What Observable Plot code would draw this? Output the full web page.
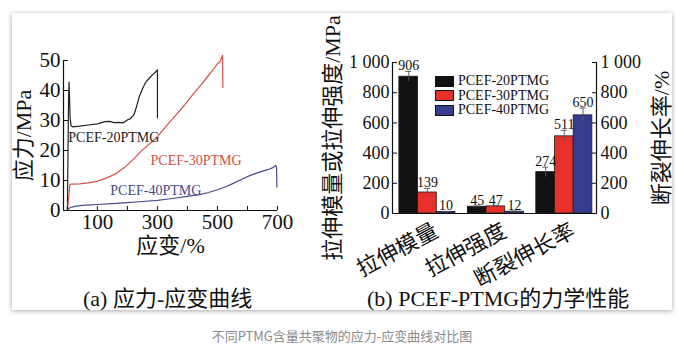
<!DOCTYPE html>
<html><head><meta charset="utf-8">
<script src="https://cdn.jsdelivr.net/npm/d3@7"></script>
<script src="https://cdn.jsdelivr.net/npm/@observablehq/plot@0.6"></script>
<style>
body{margin:0;background:#fff;}
#root{position:relative;width:684px;height:354px;overflow:hidden;font-family:"Liberation Serif","Noto Sans CJK SC",serif;color:#111;}
#card{position:absolute;left:12px;top:13px;width:660px;height:297px;background:#fff;box-shadow:0 1px 5px rgba(0,0,0,0.35);}
#left,#right{position:absolute;top:0;}
#left{left:0;}
#right{left:300px;}
.title{position:absolute;top:288px;font-size:22px;line-height:22px;white-space:nowrap;color:#111;}
#caption{position:absolute;left:0;width:684px;top:326px;text-align:center;font-family:"Noto Sans CJK SC",sans-serif;font-size:13px;color:#8a8a8a;}
#legend{position:absolute;left:435px;top:74px;font-size:14px;line-height:14.5px;}
#legend .row{display:flex;align-items:center;height:14.5px;white-space:nowrap;}
#legend .sw{width:17px;height:9px;border:1px solid #111;margin-right:4px;}
</style></head>
<body><div id="root">
<div id="card"></div>
<div id="left"></div>
<div id="right"></div>
<div id="legend"></div>
<div class="title" style="left:83px">(a) 应力-应变曲线</div>
<div class="title" style="left:367px">(b) PCEF-PTMG的力学性能</div>
<div id="caption">不同PTMG含量共聚物的应力-应变曲线对比图</div>
</div>
<script>
// ---------- Panel (a) data: stress–strain curves [strain %, stress MPa]
const seriesNames = ["PCEF-20PTMG", "PCEF-30PTMG", "PCEF-40PTMG"];
const curve20 = [[0,0],[2,20],[4,38],[5.5,42.8],[7,38],[9,31],[12,28.3],[17,27.9],[40,28.1],[70,28.5],[100,28.9],[125,29.6],[140,29.7],[155,29.3],[170,29.4],[185,29.2],[200,30.2],[210,30.6],[222,32],[230,34.5],[239,37.8],[250,40.5],[261,42.8],[272,44],[283,45.2],[292,46],[300,46.9],[300,30.9]];
const curve30 = [[0,0],[4,4],[8,8.5],[12,8.8],[40,8.9],[70,9.2],[100,9.8],[130,10.8],[160,12.2],[190,14.3],[222,17.3],[250,20.2],[278,22.6],[300,24.6],[330,28.2],[360,31.6],[389,35],[415,38.3],[444,41.8],[470,45],[490,47.5],[500,48.9],[508,49.5],[512,50.5],[517,51.7],[518,41]];
const curve40 = [[0,0],[3,0.5],[10,1.0],[25,1.4],[50,1.7],[100,2.0],[150,2.3],[200,2.6],[250,3.0],[300,3.4],[350,4.0],[400,4.7],[440,5.3],[470,6.0],[500,6.9],[530,8.0],[556,9.2],[585,10.6],[611,11.8],[640,12.8],[667,13.6],[685,14.3],[695,15],[697,14],[698,7.8]];
const curveColors = ["#222222", "#d0504a", "#474a8c"];
const xDomainA = [-13, 700];
const yDomainA = [0, 50];
const yTicksA = [0, 10, 20, 30, 40, 50];
const xTicksA = [0, 100, 200, 300, 400, 500, 600, 700];
const xLabelTicksA = [100, 300, 500, 700];
// curve label anchors in data units (strain, stress)
const curveLabelAt = [[3, 24.3], [277, 16.7], [143, 6.7]];

// ---------- Panel (b) data
const groups = ["拉伸模量", "拉伸强度", "断裂伸长率"];
const values20 = [906, 45, 274];
const values30 = [139, 47, 511];
const values40 = [10, 12, 650];
const errors20 = [35, 5, 33];
const errors30 = [27, 5, 40];
const errors40 = [4, 4, 48];
const barColors = ["#111111", "#e8302a", "#363c8e"];
const yTicksB = [0, 200, 400, 600, 800, 1000];
const xDomainB = [-0.51, 2.47];
const barW = 0.273;

const font = '"Liberation Serif","Noto Sans CJK SC",serif';

// ----- Build panel (a)
const curveRows = [];
[curve20, curve30, curve40].forEach((c, i) => c.forEach(([s, v]) => curveRows.push({series: seriesNames[i], strain: s, stress: v})));
const labelRows = seriesNames.map((n, i) => ({series: n, x: curveLabelAt[i][0], y: curveLabelAt[i][1]}));

const plotA = Plot.plot({
  width: 300, height: 270,
  marginLeft: 63, marginRight: 23, marginTop: 60, marginBottom: 60,
  style: {fontFamily: font, fontSize: "21px", background: "transparent", color: "#111", overflow: "visible"},
  x: {domain: xDomainA},
  y: {domain: yDomainA},
  color: {domain: seriesNames, range: curveColors},
  marks: [
    Plot.line(curveRows, {x: "strain", y: "stress", z: "series", stroke: "series", strokeWidth: 1.2}),
    Plot.text(labelRows, {x: "x", y: "y", text: "series", fill: "series", textAnchor: "start", fontSize: 14}),
    Plot.ruleY([yDomainA[0]], {stroke: "#111", strokeWidth: 1.2}),
    Plot.ruleX([xDomainA[0]], {stroke: "#111", strokeWidth: 1.2}),
    Plot.axisY({ticks: yTicksA, tickSize: 5, dx: 5, tickFormat: () => "", label: null}),
    Plot.axisY({ticks: yTicksA, tickSize: 0, tickPadding: 3, fontSize: 21, label: null}),
    Plot.axisY({ticks: [], tickSize: 0, fontSize: 22, label: "应力/MPa", labelAnchor: "center", labelArrow: "none", labelOffset: 48}),
    Plot.axisX({ticks: xTicksA, tickSize: 4, dy: -4, tickFormat: () => "", label: null}),
    Plot.axisX({ticks: xLabelTicksA, tickSize: 0, tickPadding: 4, fontSize: 21, label: null}),
    Plot.axisX({ticks: [], tickSize: 0, fontSize: 22, label: "应变/%", labelAnchor: "center", labelArrow: "none", labelOffset: 42})
  ]
});
document.getElementById("left").appendChild(plotA);

// ----- Build panel (b)
const valueSets = [values20, values30, values40];
const errorSets = [errors20, errors30, errors40];
const barRows = [];
groups.forEach((g, gi) => seriesNames.forEach((s, si) => {
  const x1 = gi + (si - 1.5) * barW;
  barRows.push({group: g, series: s, x1, x2: x1 + barW, xc: x1 + barW / 2,
    value: valueSets[si][gi], lo: valueSets[si][gi] - errorSets[si][gi], hi: valueSets[si][gi] + errorSets[si][gi]});
}));
const capW = 0.045;
const fmtB = d => d === 1000 ? "1 000" : String(d);

const plotB = Plot.plot({
  width: 384, height: 300,
  marginLeft: 92, marginRight: 88, marginTop: 62, marginBottom: 87,
  style: {fontFamily: font, fontSize: "18px", background: "transparent", color: "#111", overflow: "visible"},
  x: {domain: xDomainB},
  y: {domain: [0, 1000]},
  color: {domain: seriesNames, range: barColors},
  marks: [
    Plot.rectY(barRows, {x1: "x1", x2: "x2", y: "value", fill: "series", stroke: "#1a1a1a", strokeWidth: 0.8}),
    Plot.ruleX(barRows, {x: "xc", y1: "lo", y2: "hi", stroke: "#555", strokeWidth: 0.9}),
    Plot.ruleY(barRows, {y: "hi", x1: d => d.xc - capW, x2: d => d.xc + capW, stroke: "#555", strokeWidth: 0.9}),
    Plot.text(barRows, {x: "xc", y: "hi", text: d => String(d.value), lineAnchor: "bottom", dy: -1, fontSize: 14, fill: "#111"}),
    Plot.ruleY([0], {stroke: "#111", strokeWidth: 1.2}),
    Plot.ruleX([xDomainB[0], xDomainB[1]], {stroke: "#111", strokeWidth: 1.2}),
    Plot.axisY({anchor: "left", ticks: yTicksB, tickSize: 5, dx: 5, tickFormat: () => "", label: null}),
    Plot.axisY({anchor: "left", ticks: yTicksB, tickSize: 0, tickPadding: 3, tickFormat: fmtB, fontSize: 18, label: null}),
    Plot.axisY({anchor: "left", ticks: [], tickSize: 0, fontSize: 22, label: "拉伸模量或拉伸强度/MPa", labelAnchor: "center", labelArrow: "none", labelOffset: 68}),
    Plot.axisY({anchor: "right", ticks: yTicksB, tickSize: 5, dx: -5, tickFormat: () => "", label: null}),
    Plot.axisY({anchor: "right", ticks: yTicksB, tickSize: 0, tickPadding: 4, tickFormat: fmtB, fontSize: 18, label: null}),
    Plot.axisY({anchor: "right", ticks: [], tickSize: 0, fontSize: 22, label: "断裂伸长率/%", labelAnchor: "center", labelArrow: "none", labelOffset: 72}),
    Plot.axisX({ticks: [0, 1, 2], tickFormat: i => groups[i], tickRotate: -28, tickSize: 0, tickPadding: 16, dx: 9, fontSize: 22, label: null})
  ]
});
document.getElementById("right").appendChild(plotB);

// ----- Legend (HTML)
const lg = document.getElementById("legend");
seriesNames.forEach((n, i) => {
  const r = document.createElement("div"); r.className = "row";
  const sw = document.createElement("div"); sw.className = "sw"; sw.style.background = barColors[i];
  const t = document.createElement("span"); t.textContent = n;
  r.appendChild(sw); r.appendChild(t); lg.appendChild(r);
});
</script>
</body></html>
